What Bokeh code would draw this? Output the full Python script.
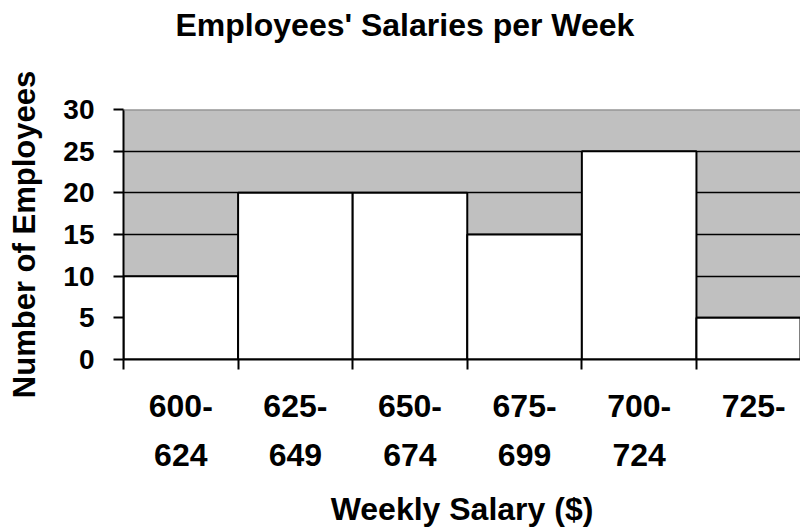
from bokeh.plotting import figure
from bokeh.models import Range1d, FixedTicker, Span, Title
from bokeh.embed import file_html
from bokeh.resources import INLINE

# ---- data ----
chart_title = "Employees' Salaries per Week"
salary_ranges = ["600-\n624", "625-\n649", "650-\n674", "675-\n699", "700-\n724", "725-"]
employees = [10, 20, 20, 15, 25, 5]
y_ticks = [0, 5, 10, 15, 20, 25, 30]

n = len(employees)
centers = [i + 0.5 for i in range(n)]
edges = list(range(n + 1))

FONT = "Liberation Sans"

p = figure(frame_width=677, frame_height=250, output_backend="svg", toolbar_location=None,
           x_range=Range1d(0, 5.908), y_range=Range1d(0, 30),
           min_border_left=123, min_border_right=0, min_border_top=109,
           min_border_bottom=157)

p.background_fill_color = "#C0C0C0"
p.border_fill_color = "white"
p.outline_line_color = None

p.vbar(x=centers, width=1, bottom=0, top=employees, fill_color="white",
       line_color="black", line_width=2)

# grid
p.xgrid.visible = False
p.ygrid.ticker = FixedTicker(ticks=y_ticks[1:-1])
p.ygrid.grid_line_color = "black"
p.ygrid.grid_line_width = 1.5
p.add_layout(Span(location=y_ticks[-1], dimension="width", line_color="#808080", line_width=2))

# title (a blank spacer title sits between the frame and the real title)
p.title.text = chart_title
p.title.text_font = FONT
p.title.text_font_size = "32px"
p.title.text_font_style = "bold"
p.title.text_color = "black"
p.title.align = "left"
p.title.vertical_align = "top"
p.title.offset = 52
p.title.standoff = 0
p.add_layout(Title(text=" ", text_font_size="10px", standoff=52), "above")

# x axis
xa = p.xaxis[0]
xa.ticker = FixedTicker(ticks=centers, minor_ticks=edges)
xa.major_label_overrides = {c: lab for c, lab in zip(centers, salary_ranges)}
xa.major_tick_out = 0
xa.major_tick_in = 0
xa.minor_tick_out = 10
xa.minor_tick_in = 0
xa.minor_tick_line_color = "black"
xa.minor_tick_line_width = 2
xa.axis_line_color = "black"
xa.axis_line_width = 2
xa.major_label_text_font = FONT
xa.major_label_text_font_size = "32px"
xa.major_label_text_font_style = "bold"
xa.major_label_text_color = "black"
xa.major_label_text_line_height = 1.37
xa.major_label_standoff = 18
xa.axis_label = "Weekly Salary ($)"
xa.axis_label_text_font = FONT
xa.axis_label_text_font_size = "32px"
xa.axis_label_text_font_style = "bold"
xa.axis_label_text_color = "black"
xa.axis_label_standoff = 15

# y axis
ya = p.yaxis[0]
ya.ticker = FixedTicker(ticks=y_ticks, minor_ticks=[])
ya.major_tick_out = 10
ya.major_tick_in = 0
ya.major_tick_line_width = 2
ya.major_tick_line_color = "black"
ya.axis_line_color = "black"
ya.axis_line_width = 2
ya.major_label_text_font = FONT
ya.major_label_text_font_size = "28px"
ya.major_label_text_font_style = "bold"
ya.major_label_text_color = "black"
ya.major_label_standoff = 19
ya.axis_label = "Number of Employees"
ya.axis_label_text_font = FONT
ya.axis_label_text_font_size = "31px"
ya.axis_label_text_font_style = "bold"
ya.axis_label_text_color = "black"
ya.axis_label_standoff = 18

open("out.html", "w").write(file_html(p, INLINE))
